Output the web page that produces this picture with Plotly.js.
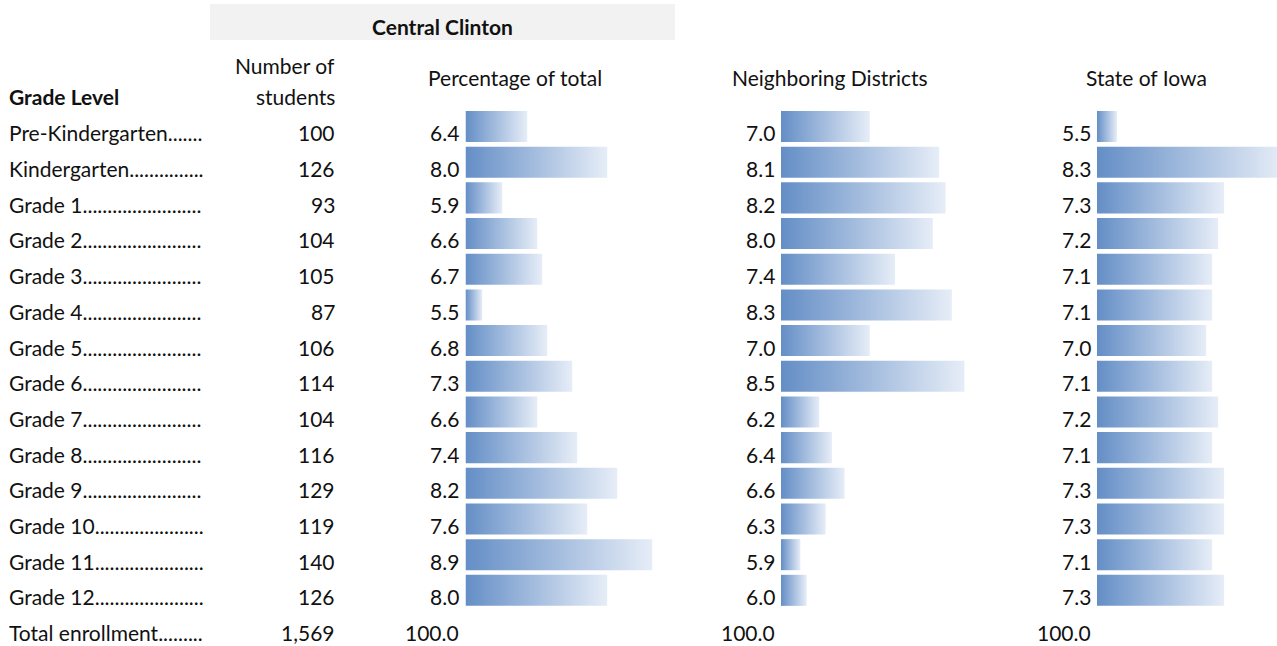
<!DOCTYPE html>
<html>
<head>
<meta charset="utf-8">
<script src="https://cdn.plot.ly/plotly-3.0.1.min.js"></script>
<style>
  html, body { margin: 0; padding: 0; background: #ffffff; }
  #chart { width: 1277px; height: 646px; }
</style>
</head>
<body>
<div id="chart"></div>
<script>
// ---------- data ----------
const gradeLabels = [
  'Pre-Kindergarten.......',
  'Kindergarten...............',
  'Grade 1........................',
  'Grade 2........................',
  'Grade 3........................',
  'Grade 4........................',
  'Grade 5........................',
  'Grade 6........................',
  'Grade 7........................',
  'Grade 8........................',
  'Grade 9........................',
  'Grade 10......................',
  'Grade 11......................',
  'Grade 12......................'
];
const students = [100, 126, 93, 104, 105, 87, 106, 114, 104, 116, 129, 119, 140, 126];
const pctOfTotal = [6.4, 8.0, 5.9, 6.6, 6.7, 5.5, 6.8, 7.3, 6.6, 7.4, 8.2, 7.6, 8.9, 8.0];
const neighboring = [7.0, 8.1, 8.2, 8.0, 7.4, 8.3, 7.0, 8.5, 6.2, 6.4, 6.6, 6.3, 5.9, 6.0];
const stateOfIowa = [5.5, 8.3, 7.3, 7.2, 7.1, 7.1, 7.0, 7.1, 7.2, 7.1, 7.3, 7.3, 7.1, 7.3];
const totalLabel = 'Total enrollment.........';
const totalStudents = '1,569';
const totalPct = '100.0';
const groupTitle = 'Central Clinton';
const columnTitles = ['Percentage of total', 'Neighboring Districts', 'State of Iowa'];

// ---------- layout helpers ----------
const W = 1277, H = 646;
const px = v => v / W;
const py = v => 1 - v / H;
const FONT = 'Lato, "Open Sans", sans-serif';
const FS = 21;
const TXT = '#111111';
const TEXT_DY = 0.18;      // text sits slightly below bar center (bottom aligned cells)
const HALF = 0.435;        // half bar height in row units

const columns = [
  { axis: 'x',  key: 'xaxis',  vals: pctOfTotal,  domain: [465.5 / W, 720 / W], range: [5.166, 5.166 + 254.5 / 50],  labelRight: 461 },
  { axis: 'x2', key: 'xaxis2', vals: neighboring, domain: [781 / W, 1040 / W], range: [5.593, 5.593 + 259 / 63.1],   labelRight: 777 },
  { axis: 'x3', key: 'xaxis3', vals: stateOfIowa, domain: [1097 / W, 1],       range: [5.164, 5.164 + 180 / 59.5],   labelRight: 1093 }
];

const grad = { type: 'horizontal', colorscale: [[0, '#648ec6'], [1, '#e6edf7']] };

const traces = [];
columns.forEach(col => {
  const base = col.range[0];
  col.vals.forEach((v, i) => {
    traces.push({
      type: 'scatter',
      mode: 'lines',
      x: [base, v, v, base, base],
      y: [i - HALF, i - HALF, i + HALF, i + HALF, i - HALF],
      fill: 'toself',
      fillgradient: grad,
      fillcolor: '#8eabd6',
      line: { width: 0, color: 'rgba(0,0,0,0)' },
      xaxis: col.axis,
      yaxis: 'y',
      hoverinfo: 'skip',
      showlegend: false
    });
  });
});

const ann = [];
const font = { family: FONT, size: FS, color: TXT };
const rowAnn = (text, xPx, anchor, row, bold) => ({
  text: bold ? '<b>' + text + '</b>' : text,
  xref: 'paper', yref: 'y',
  x: px(xPx), y: row + TEXT_DY,
  xanchor: anchor, yanchor: 'middle',
  showarrow: false, font: font
});
gradeLabels.forEach((g, i) => {
  ann.push(rowAnn(g, 7, 'left', i));
  ann.push(rowAnn(String(students[i]), 337, 'right', i));
  columns.forEach(col => ann.push(rowAnn(col.vals[i].toFixed(1), col.labelRight, 'right', i)));
});
const totRow = gradeLabels.length;
ann.push(rowAnn(totalLabel, 7, 'left', totRow));
ann.push(rowAnn(totalStudents, 337, 'right', totRow));
columns.forEach(col => ann.push(rowAnn(totalPct, col.labelRight, 'right', totRow)));

const headAnn = (text, xPx, yPx, anchor, bold) => ({
  text: bold ? '<b>' + text + '</b>' : text,
  xref: 'paper', yref: 'paper',
  x: px(xPx), y: py(yPx),
  xanchor: anchor, yanchor: 'middle',
  showarrow: false, font: font
});
ann.push(headAnn(groupTitle, 442, 26, 'center', true));
ann.push(headAnn('Number of', 337, 66, 'right'));
ann.push(headAnn('students', 337, 97, 'right'));
ann.push(headAnn('Grade Level', 7, 97, 'left', true));
ann.push(headAnn(columnTitles[0], 515, 77, 'center'));
ann.push(headAnn(columnTitles[1], 830, 77, 'center'));
ann.push(headAnn(columnTitles[2], 1146, 77, 'center'));

// y mapping: row i centre at 126.5 + 35.68*i px
const pitch = 35.68;
const yTop = -126.5 / pitch;
const yBottom = yTop + H / pitch;

const layout = {
  width: W, height: H,
  margin: { l: 0, r: 0, t: 0, b: 0, pad: 0 },
  paper_bgcolor: '#ffffff',
  plot_bgcolor: 'rgba(0,0,0,0)',
  showlegend: false,
  font: font,
  yaxis: { range: [yBottom, yTop], visible: false, fixedrange: true, anchor: 'x' },
  annotations: ann,
  shapes: [{
    type: 'rect', xref: 'paper', yref: 'paper',
    x0: px(210), x1: px(675), y0: py(40), y1: py(4),
    fillcolor: '#f2f2f2', line: { width: 0 }, layer: 'below'
  }]
};
columns.forEach(col => {
  layout[col.key] = { domain: col.domain, range: col.range, visible: false, fixedrange: true, anchor: 'y' };
});

Plotly.newPlot('chart', traces, layout, { displayModeBar: false, staticPlot: true });
</script>
</body>
</html>
